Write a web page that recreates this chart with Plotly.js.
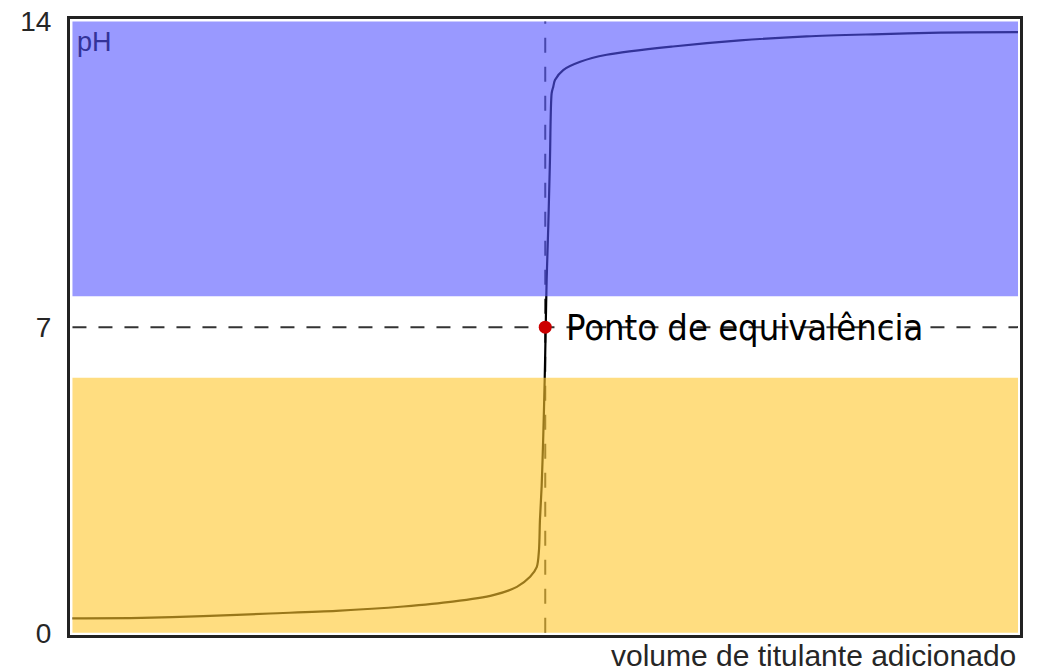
<!DOCTYPE html>
<html>
<head>
<meta charset="utf-8">
<script src="https://cdn.plot.ly/plotly-3.0.1.min.js"></script>
<style>html,body{margin:0;padding:0;background:#fff;}#chart{width:1040px;height:671px;}</style>
</head>
<body>
<div id="chart"></div>
<script>
// Titration curve (volume in % of full axis, pH)
const volume = [0, 7.3, 13.8, 20.9, 27.9, 35.0, 40.2, 44.5, 47.0, 48.4, 49.1, 49.34, 49.44, 49.62, 49.79, 49.95, 50.05, 50.15, 50.32, 50.5, 50.68, 50.85, 51.03, 51.9, 53.7, 56.5, 63.5, 70.6, 77.65, 84.7, 91.8, 100];
const pH     = [0.33, 0.34, 0.38, 0.44, 0.50, 0.60, 0.71, 0.86, 1.05, 1.28, 1.50, 1.90, 2.58, 3.35, 4.49, 5.87, 7.0, 8.08, 9.30, 10.83, 12.36, 12.51, 12.66, 12.89, 13.08, 13.24, 13.43, 13.57, 13.66, 13.71, 13.75, 13.76];

const eqVolume = [50];
const eqPH = [7];
const eqLabel = 'Ponto de equivalência';

const volumeSpan = [0, 100];
const acidZone = [0, 5.84];
const basicZone = [7.71, 14];

const yTickVals = [0, 7, 14];
const yTickText = ['0', '7', '14'];
const yLabel = 'pH';
const xLabel = 'volume de titulante adicionado';

const curve = {
  x: volume, y: pH, type: 'scatter', mode: 'lines',
  line: {color: '#000000', width: 2.2, shape: 'spline', smoothing: 0.8},
  hoverinfo: 'skip', showlegend: false
};
const eq = {
  x: eqVolume, y: eqPH, type: 'scatter', mode: 'markers',
  marker: {color: '#cc0000', size: 13},
  hoverinfo: 'skip', showlegend: false
};

const layout = {
  width: 1040, height: 671,
  margin: {l: 70, r: 20, t: 19, b: 36, pad: 0},
  paper_bgcolor: '#ffffff', plot_bgcolor: '#ffffff',
  showlegend: false,
  xaxis: {
    range: [-0.26, 100.21], showgrid: false, zeroline: false,
    showticklabels: false, ticks: '',
    showline: true, linecolor: '#222222', linewidth: 3, mirror: true,
    fixedrange: true
  },
  yaxis: {
    range: [-0.053, 14.06], showgrid: false, zeroline: false,
    tickvals: yTickVals, ticktext: yTickText, ticks: '',
    ticklabelstandoff: 10,
    tickfont: {family: 'Liberation Sans, Arial, sans-serif', size: 28, color: '#262626'},
    showline: true, linecolor: '#222222', linewidth: 3, mirror: true,
    fixedrange: true
  },
  shapes: [
    {type: 'line', layer: 'below', xref: 'x', yref: 'y', x0: volumeSpan[0], x1: volumeSpan[1], y0: eqPH[0], y1: eqPH[0],
     line: {color: '#333333', width: 2, dash: '14px,12px'}},
    {type: 'line', layer: 'below', xref: 'x', yref: 'y', x0: eqVolume[0], x1: eqVolume[0], y0: acidZone[0], y1: basicZone[1],
     line: {color: '#333333', width: 2, dash: '15px,14px'}},
    {type: 'rect', layer: 'above', xref: 'x', yref: 'y', x0: volumeSpan[0], x1: volumeSpan[1], y0: basicZone[0], y1: basicZone[1],
     fillcolor: 'rgb(85,85,255)', opacity: 0.6, line: {width: 0}},
    {type: 'rect', layer: 'above', xref: 'x', yref: 'y', x0: volumeSpan[0], x1: volumeSpan[1], y0: acidZone[0], y1: acidZone[1],
     fillcolor: 'rgb(255,198,43)', opacity: 0.6, line: {width: 0}}
  ],
  annotations: [
    {text: yLabel, xref: 'paper', yref: 'paper', x: 0.0055, y: 0.9625, xanchor: 'left', yanchor: 'middle',
     showarrow: false, font: {family: 'Liberation Sans, Arial, sans-serif', size: 27, color: '#333399'}},
    {text: xLabel, xref: 'paper', yref: 'paper', x: 0.998, y: -0.0325, xanchor: 'right', yanchor: 'middle',
     showarrow: false, font: {family: 'Liberation Sans, Arial, sans-serif', size: 30, color: '#262626'}},
    {text: eqLabel, xref: 'x', yref: 'y', x: eqVolume[0], y: eqPH[0], xanchor: 'left', yanchor: 'middle',
     xshift: 19, showarrow: false, font: {family: 'DejaVu Sans Condensed, DejaVu Sans, sans-serif', size: 36, color: '#000000'}}
  ]
};

Plotly.newPlot('chart', [curve, eq], layout, {displayModeBar: false, staticPlot: true});
</script>
</body>
</html>
